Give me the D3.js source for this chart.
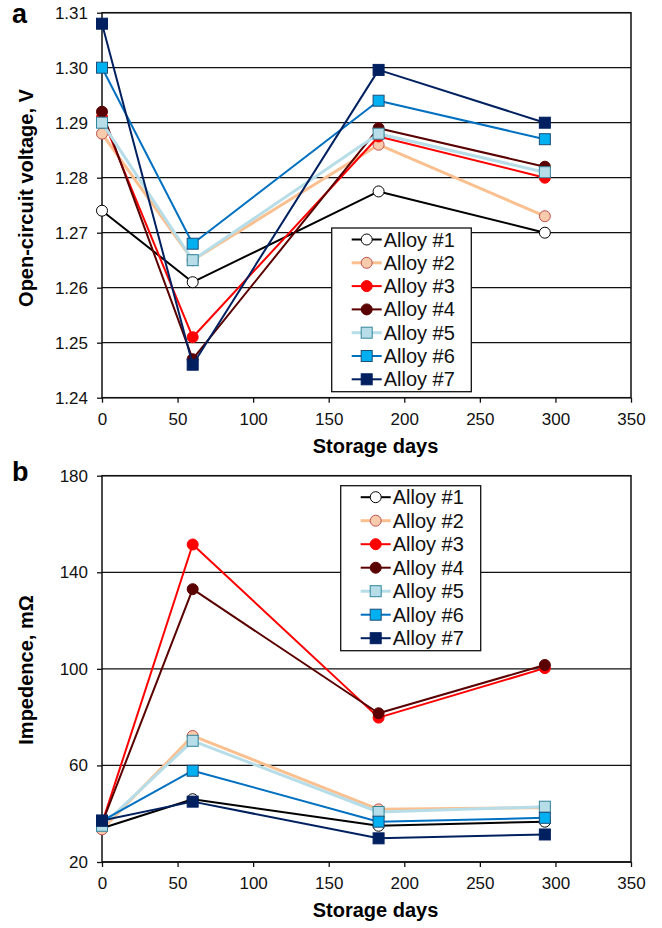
<!DOCTYPE html>
<html>
<head>
<meta charset="utf-8">
<script src="https://cdn.jsdelivr.net/npm/d3@7"></script>
<style>
  body { margin: 0; background: #fff; }
  svg { font-family: "Liberation Sans", Arial, sans-serif; }
</style>
</head>
<body>
<svg id="chart" width="662" height="928"></svg>
<script>
// storage days (x values shared by both panels)
const days = [0, 60, 183, 293];
const alloyNames = ['Alloy #1', 'Alloy #2', 'Alloy #3', 'Alloy #4', 'Alloy #5', 'Alloy #6', 'Alloy #7'];

// panel a: open-circuit voltage, V
const ocv1 = [1.274, 1.261, 1.2775, 1.270];
const ocv2 = [1.288, 1.265, 1.286, 1.273];
const ocv3 = [1.291, 1.251, 1.2875, 1.280];
const ocv4 = [1.292, 1.247, 1.289, 1.282];
const ocv5 = [1.290, 1.265, 1.288, 1.281];
const ocv6 = [1.300, 1.268, 1.294, 1.287];
const ocv7 = [1.308, 1.246, 1.2996, 1.290];

// panel b: impedence, mOhm
const imp1 = [34, 46, 35, 36.7];
const imp2 = [33.5, 72.2, 41.8, 42.5];
const imp3 = [36, 151.5, 79.8, 100.3];
const imp4 = [36, 133, 81.6, 101.6];
const imp5 = [35, 70.2, 40.7, 42.9];
const imp6 = [37, 57.8, 36.7, 38.3];
const imp7 = [37.2, 45, 29.8, 31.4];

const xTicks = [0, 50, 100, 150, 200, 250, 300, 350];
const ocvTicks = [1.24, 1.25, 1.26, 1.27, 1.28, 1.29, 1.30, 1.31];
const impTicks = [20, 60, 100, 140, 180];

// look of each alloy
const styles = [
  { line: '#000000', fill: '#ffffff', stroke: '#000000', shape: 'circle', w: 2 },
  { line: '#FAC090', fill: '#F8CBAD', stroke: '#C0504D', shape: 'circle', w: 3 },
  { line: '#FF0000', fill: '#FF0000', stroke: '#FF0000', shape: 'circle', w: 2 },
  { line: '#5A0000', fill: '#5A0000', stroke: '#5A0000', shape: 'circle', w: 2 },
  { line: '#B7DEE8', fill: '#B7DEE8', stroke: '#31859C', shape: 'square', w: 3 },
  { line: '#0070C0', fill: '#00B0F0', stroke: '#1F4E79', shape: 'square', w: 2 },
  { line: '#002060', fill: '#002060', stroke: '#002060', shape: 'square', w: 2 }
];

const svg = d3.select('#chart');
const x = d3.scaleLinear().domain([0, 350]).range([102, 631]);

function drawMarker(g, shape, cx, cy, st, size) {
  if (shape === 'circle') {
    g.append('circle').attr('cx', cx).attr('cy', cy).attr('r', size / 2)
      .attr('fill', st.fill).attr('stroke', st.stroke).attr('stroke-width', 1);
  } else {
    g.append('rect').attr('x', cx - size / 2).attr('y', cy - size / 2)
      .attr('width', size).attr('height', size)
      .attr('fill', st.fill).attr('stroke', st.stroke).attr('stroke-width', 1);
  }
}

function drawPanel(opt) {
  const y = d3.scaleLinear().domain(opt.domain).range([opt.bottom, opt.top]);
  const g = svg.append('g');

  // horizontal grid lines
  g.selectAll('.grid').data(opt.ticks).enter().append('line')
    .attr('x1', x(0)).attr('x2', x(350))
    .attr('y1', d => y(d)).attr('y2', d => y(d))
    .attr('stroke', '#111').attr('stroke-width', 1.3);

  // frame
  g.append('rect').attr('x', x(0)).attr('y', opt.top)
    .attr('width', x(350) - x(0)).attr('height', opt.bottom - opt.top)
    .attr('fill', 'none').attr('stroke', '#111').attr('stroke-width', 1.5);

  // axes
  const yAxis = d3.axisLeft(y).tickValues(opt.ticks).tickSize(5).tickPadding(9)
    .tickFormat(opt.fmt);
  const ya = g.append('g').attr('transform', `translate(${x(0)},0)`).call(yAxis);
  const xAxis = d3.axisBottom(x).tickValues(xTicks).tickSize(5).tickPadding(10);
  const xa = g.append('g').attr('transform', `translate(0,${opt.bottom})`).call(xAxis);
  [ya, xa].forEach(a => {
    a.select('.domain').remove();
    a.selectAll('.tick line').attr('stroke', '#111').attr('stroke-width', 1.3);
    a.selectAll('.tick text').attr('font-size', 17).attr('fill', '#111')
      .attr('font-family', '"Liberation Sans", Arial, sans-serif');
  });

  // series
  opt.series.forEach((vals, i) => {
    const st = styles[i];
    const pts = days.map((d, j) => [x(d), y(vals[j])]);
    g.append('path').attr('d', d3.line()(pts))
      .attr('fill', 'none').attr('stroke', st.line).attr('stroke-width', st.w)
      .attr('stroke-linejoin', 'round');
    pts.forEach(p => drawMarker(g, st.shape, p[0], p[1], st, 11));
  });

  // legend
  const lg = g.append('g');
  lg.append('rect').attr('x', opt.legend.x).attr('y', opt.legend.y)
    .attr('width', opt.legend.w).attr('height', opt.legend.h)
    .attr('fill', '#fff').attr('stroke', '#111').attr('stroke-width', 1.3);
  alloyNames.forEach((name, i) => {
    const st = styles[i];
    const cy = opt.legend.y + 11.5 + i * opt.legend.step;
    const lx = opt.legend.x + opt.legend.pad;
    lg.append('line').attr('x1', lx).attr('x2', lx + 30).attr('y1', cy).attr('y2', cy)
      .attr('stroke', st.line).attr('stroke-width', st.w);
    drawMarker(lg, st.shape, lx + 15, cy, st, 11);
    lg.append('text').attr('x', lx + 32).attr('y', cy + 7)
      .attr('font-size', 20).attr('fill', '#111').text(name);
  });

  // titles
  svg.append('text').attr('x', (x(0) + x(350)) / 2 + 9).attr('y', opt.bottom + 55)
    .attr('text-anchor', 'middle').attr('font-size', 20).attr('font-weight', 'bold')
    .text('Storage days');
  svg.append('text')
    .attr('transform', `translate(33,${opt.titleY}) rotate(-90)`)
    .attr('text-anchor', 'middle').attr('font-size', 20).attr('font-weight', 'bold')
    .text(opt.yTitle);
  svg.append('text').attr('x', 12).attr('y', opt.labelY)
    .attr('font-size', 27).attr('font-weight', 'bold').text(opt.label);
}

drawPanel({
  domain: [1.24, 1.31], top: 12.7, bottom: 397.7, ticks: ocvTicks,
  fmt: d3.format('.2f'),
  series: [ocv1, ocv2, ocv3, ocv4, ocv5, ocv6, ocv7],
  legend: { x: 331.7, y: 228, w: 139.6, h: 163.7, step: 23.3, pad: 20 },
  yTitle: 'Open-circuit voltage, V', titleY: 198, label: 'a', labelY: 23
});

drawPanel({
  domain: [20, 180], top: 475.7, bottom: 862, ticks: impTicks,
  fmt: d3.format('d'),
  series: [imp1, imp2, imp3, imp4, imp5, imp6, imp7],
  legend: { x: 340.7, y: 485.7, w: 140, h: 165, step: 23.5, pad: 20 },
  yTitle: 'Impedence, mΩ', titleY: 670, label: 'b', labelY: 481
});
</script>
</body>
</html>
